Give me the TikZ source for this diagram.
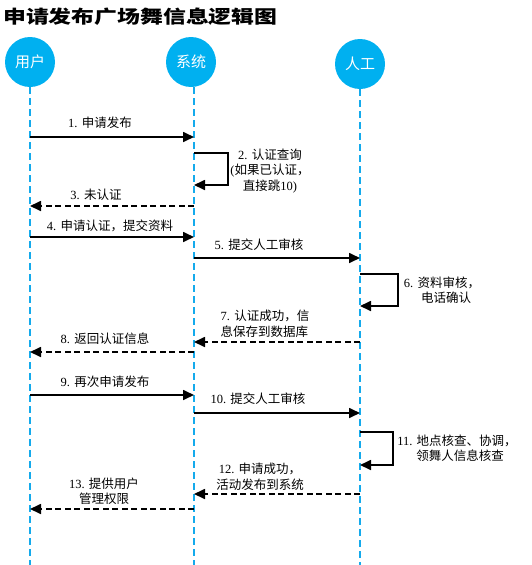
\documentclass[tikz,border=0pt]{standalone}
\usepackage{fontspec}
\setmainfont{Noto Sans CJK SC}
\newfontfamily\serif{Liberation Serif}
\usetikzlibrary{arrows.meta}
\definecolor{lcyan}{HTML}{00B0F0}
\definecolor{lline}{HTML}{14AAEC}
\newcommand\nm[1]{{\serif #1}}
\tikzset{
  actor/.style={circle, fill=lcyan, minimum size=50pt, inner sep=0pt, text=white, font=\fontsize{15}{17}\selectfont},
  life/.style={draw=lline, line width=2pt, dash pattern=on 7pt off 4pt},
  msg/.style={draw=black, line width=1.7pt, -{Triangle[length=11pt,width=10pt]}},
  reply/.style={msg, dash pattern=on 6pt off 3.5pt},
  lbl/.style={inner sep=0pt, align=center, font=\fontsize{12.5}{15.5}\selectfont},
}
\begin{document}
\begin{tikzpicture}[x=1pt,y=-1pt]
\useasboundingbox (0,0) rectangle (532,565);
% title
\node[anchor=west, inner sep=0pt, font=\fontsize{18}{20}\selectfont\bfseries] (title) at (3,17) {\scalebox{1.27}[1]{申请发布广场舞信息逻辑图}};
% actors
\node[actor] (u) at (30,62) {用户};
\node[actor] (s) at (191,62) {系统};
\node[actor] (h) at (360,64) {人工};
\coordinate (ub) at (30,565);
\coordinate (sb) at (194,565);
\coordinate (hb) at (360,565);
\draw[life] (u.south) -- (ub);
\draw[life] (194,87) -- (sb);
\draw[life] (h.south) -- (hb);
% 1
\coordinate (u1) at (30,137); \coordinate (s1) at (194,137);
\draw[msg] (u1) -- (s1);
\node[lbl] (l1) at (100,123) {\nm{1. }申请发布};
% 2
\coordinate (s2a) at (194,153); \coordinate (s2b) at (194,185);
\draw[msg] (s2a) -- (228,153) |- (s2b);
\node[lbl] (l2) at (270,171) {\nm{2. }认证查询\\\nm{(}如果已认证，\\直接跳\nm{10)}};
% 3
\coordinate (s3) at (194,206); \coordinate (u3) at (30,206);
\draw[reply] (s3) -- (u3);
\node[lbl] (l3) at (96,195) {\nm{3. }未认证};
% 4
\coordinate (u4) at (30,237); \coordinate (s4) at (194,237);
\draw[msg] (u4) -- (s4);
\node[lbl] (l4) at (110,226) {\nm{4. }申请认证，提交资料};
% 5
\coordinate (s5) at (194,258); \coordinate (h5) at (360,258);
\draw[msg] (s5) -- (h5);
\node[lbl] (l5) at (259,245) {\nm{5. }提交人工审核};
% 6
\coordinate (h6a) at (360,274); \coordinate (h6b) at (360,306);
\draw[msg] (h6a) -- (398,274) |- (h6b);
\node[lbl] (l6) at (442,290) {\nm{6. }资料审核，\\\hspace*{8pt}电话确认};
% 7
\coordinate (h7) at (360,342); \coordinate (s7) at (194,342);
\draw[reply] (h7) -- (s7);
\node[lbl, align=left] (l7) at (265,324) {\nm{7. }认证成功，信\\息保存到数据库};
% 8
\coordinate (s8) at (194,352); \coordinate (u8) at (30,352);
\draw[reply] (s8) -- (u8);
\node[lbl] (l8) at (105,339) {\nm{8. }返回认证信息};
% 9
\coordinate (u9) at (30,395); \coordinate (s9) at (194,395);
\draw[msg] (u9) -- (s9);
\node[lbl] (l9) at (105,382) {\nm{9. }再次申请发布};
% 10
\coordinate (s10) at (194,413); \coordinate (h10) at (360,413);
\draw[msg] (s10) -- (h10);
\node[lbl] (l10) at (258,399) {\nm{10. }提交人工审核};
% 11
\coordinate (h11a) at (360,432); \coordinate (h11b) at (360,465);
\draw[msg] (h11a) -- (393,432) |- (h11b);
\node[lbl] (l11) at (457,448) {\nm{11. }地点核查、协调，\\\hspace*{6pt}领舞人信息核查};
% 12
\coordinate (h12) at (360,494); \coordinate (s12) at (194,494);
\draw[reply] (h12) -- (s12);
\node[lbl] (l12) at (260,477) {\nm{12. }申请成功，\\活动发布到系统};
% 13
\coordinate (s13) at (194,509); \coordinate (u13) at (30,509);
\draw[reply] (s13) -- (u13);
\node[lbl] (l13) at (104,491) {\nm{13. }提供用户\\管理权限};
\end{tikzpicture}
\end{document}
